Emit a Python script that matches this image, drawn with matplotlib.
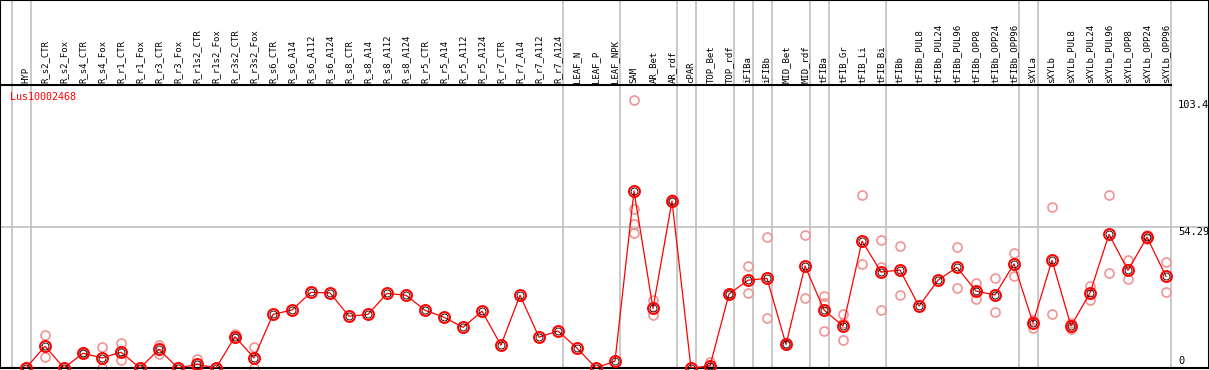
import matplotlib
matplotlib.use("Agg")
from matplotlib import pyplot as plt

# sample labels, one per column
labels = ["HYP", "R_s2_CTR", "R_s2_Fox", "R_s4_CTR", "R_s4_Fox", "R_r1_CTR", "R_r1_Fox",
          "R_r3_CTR", "R_r3_Fox", "R_r1s2_CTR", "R_r1s2_Fox", "R_r3s2_CTR", "R_r3s2_Fox",
          "R_s6_CTR", "R_s6_A14", "R_s6_A112", "R_s6_A124", "R_s8_CTR", "R_s8_A14",
          "R_s8_A112", "R_s8_A124", "R_r5_CTR", "R_r5_A14", "R_r5_A112", "R_r5_A124",
          "R_r7_CTR", "R_r7_A14", "R_r7_A112", "R_r7_A124", "LEAF_N", "LEAF_P", "LEAF_NPK",
          "SAM", "AR_Bet", "AR_rdf", "cPAR", "TOP_Bet", "TOP_rdf", "iFIBa", "iFIBb",
          "MID_Bet", "MID_rdf", "tFIBa", "tFIB_Gr", "tFIB_Li", "tFIB_Bi", "tFIBb",
          "tFIBb_PUL8", "tFIBb_PUL24", "tFIBb_PUL96", "tFIBb_OPP8", "tFIBb_OPP24",
          "tFIBb_OPP96", "sXYLa", "sXYLb", "sXYLb_PUL8", "sXYLb_PUL24", "sXYLb_PUL96",
          "sXYLb_OPP8", "sXYLb_OPP24", "sXYLb_OPP96"]

# number of samples in each experiment group (grey separators)
group_sizes = [1, 28, 3, 3, 1, 2, 1, 1, 2, 1, 3, 7, 1, 7]

# mean expression per sample
means = [0, 8.4, 0, 5.7, 3.9, 6.1, 0, 7.2, 0, 1.4, 0, 12.1, 3.9,
         20.7, 22.4, 29.2, 29.0, 20.0, 20.7, 28.8, 28.1, 22.3, 19.6, 15.7, 21.9,
         8.8, 28.1, 11.9, 14.3, 7.7, 0, 2.7,
         68.3, 23.0, 64.5, 0, 0.8, 28.6, 33.9, 34.6, 9.1, 39.4, 22.4, 16.2, 49.0,
         37.1, 37.8, 23.9, 33.9, 38.9, 29.7, 28.2, 40.2, 17.4, 41.6, 16.2, 29.0,
         51.6, 37.7, 50.5, 35.4]

# individual replicates
replicates = [[0.5], [12.6, 4.2], [], [6.0, 5.5], [8.1, 0], [9.6, 3.0], [],
              [8.9, 5.4], [], [3.5, 0], [], [13.1, 11.5], [8.1, 0],
              [], [], [], [], [], [], [], [], [], [], [], [],
              [], [], [], [], [], [], [],
              [103.4, 61.3, 55.6, 52.2], [26.1, 20.3], [65.3, 64.0], [], [2.4, 0],
              [28.8, 28.4], [39.4, 29.0], [50.6, 19.3], [9.3, 8.9], [51.4, 26.9],
              [27.9, 25.0, 14.3], [20.8, 17.3, 10.8], [66.7, 40.2], [49.3, 39.1, 22.4],
              [47.0, 28.2], [], [], [46.6, 30.8], [32.8, 26.8], [34.6, 21.6],
              [44.4, 35.4], [18.5, 15.6], [62.0, 20.8], [17.3, 14.9], [31.7, 26.1],
              [66.7, 36.6], [41.7, 34.2], [51.4, 50.0], [41.0, 29.2]]

y_max = 103.4
y_mid = 54.29
gene = "Lus10002468"

W, H = 1209, 370
fig = plt.figure(figsize=(W / 100, H / 100), dpi=100)
mono = "DejaVu Sans Mono"
grey = "#c0c0c0"

# pixel layout
x0_px, step_px = 26, 19
xlim = (-x0_px / step_px, (W - x0_px) / step_px)
head_px, base_px = 85, 368
ax = fig.add_axes([0, (H - base_px) / H, 1, (base_px - head_px) / H])
axh = fig.add_axes([0, (H - head_px) / H, 1, head_px / H])

ax.set_xlim(xlim)
ax.set_ylim(0, (base_px - head_px) / 2.59)
axh.set_xlim(xlim)
axh.set_ylim(0, 1)
for a in (ax, axh):
    a.set_xticks([])
    a.set_yticks([])
    for s in a.spines.values():
        s.set_color("black")
        s.set_linewidth(1.5)
ax.spines["top"].set_visible(False)
axh.spines["bottom"].set_visible(False)

# group separators
ends = [-1]
for n in group_sizes:
    ends.append(ends[-1] + n)
for e in ends:
    ax.axvline(e + 0.25, color=grey, lw=1.2, zorder=0)
    axh.axvline(e + 0.25, color=grey, lw=1.2, zorder=0)
axh.plot([xlim[0], ends[-1] + 0.25], [0, 0], color="black", lw=1.5, clip_on=False)
ax.axhline(y_mid, color=grey, lw=1.2, zorder=0)

xs = list(range(len(labels)))
for i, lab in enumerate(labels):
    axh.text(i, 0.025, lab, rotation=90, ha="center", va="bottom",
             fontsize=6.5, family=mono)

# replicates
rx, ry = [], []
for i, reps in enumerate(replicates):
    for v in reps:
        rx.append(i)
        ry.append(v)
ax.plot(rx, ry, ls="none", marker="o", ms=6.5, mfc="none", mec="#f09494",
        mew=1.2, zorder=2, clip_on=False)

# means
ax.plot(xs, means, color="red", lw=0.9, zorder=3)
ax.plot(xs, means, ls="none", marker="o", ms=7.8, mfc="none", mec="red",
        mew=1.5, zorder=4, clip_on=False)
ax.plot(xs, means, ls="none", marker="o", ms=5.0, mfc="none", mec="black",
        mew=0.6, zorder=5, clip_on=False)

# value labels on the right
xt = (1178 - x0_px) / step_px
ax.text(xt, y_max, f"{y_max}", ha="left", va="top", fontsize=7.5, family=mono)
ax.text(xt, y_mid, f"{y_mid}", ha="left", va="top", fontsize=7.5, family=mono)
ax.text(xt, 0.8, "0", ha="left", va="bottom", fontsize=7.5, family=mono)

ax.text(10 / W, 0.975, gene, transform=ax.transAxes, ha="left", va="top",
        fontsize=7.2, family=mono, color="red")

fig.savefig("out.png", dpi=100)
